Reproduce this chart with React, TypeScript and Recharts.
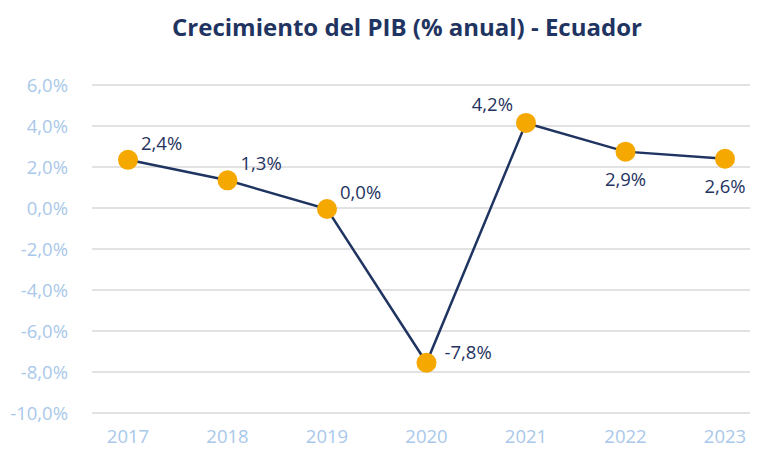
import React from 'react';
import { LineChart, Line, CartesianGrid, XAxis, YAxis, LabelList } from 'recharts';

const years = ['2017', '2018', '2019', '2020', '2021', '2022', '2023'];
const growth = [2.35, 1.35, -0.05, -7.55, 4.15, 2.75, 2.4];
const growthLabels = ['2,4%', '1,3%', '0,0%', '-7,8%', '4,2%', '2,9%', '2,6%'];
const yTicks = [-10, -8, -6, -4, -2, 0, 2, 4, 6];

const data = years.map((year, i) => ({ year, value: growth[i], label: growthLabels[i] }));

const NAVY = '#1f3461';
const ORANGE = '#f5a800';
const TICK = '#a9c8ea';
const FONT = '"Open Sans", "Noto Sans", sans-serif';
const FS = 18.5;

// where each value label sits relative to its dot
const placement = ['right', 'right', 'right', 'right', 'left', 'below', 'below'];

const fmt = (v: number) => v.toFixed(1).replace('.', ',') + '%';

const ValueLabel = (props: any) => {
  const { x, y, index, value } = props;
  const p = placement[index];
  let tx = x + 13;
  let ty = y - 15;
  let anchor: 'start' | 'end' | 'middle' = 'start';
  if (p === 'left') {
    tx = x - 13;
    ty = y - 17;
    anchor = 'end';
  } else if (p === 'below') {
    tx = x;
    ty = y + 29;
    anchor = 'middle';
  }
  if (index === 3) {
    tx = x + 18;
    ty = y - 9;
  }
  return (
    <text x={tx} y={ty} textAnchor={anchor} fill={NAVY} fontSize={FS} fontFamily={FONT} dominantBaseline="middle">
      {value}
    </text>
  );
};

const App = () => {
  return (
    <div style={{ position: 'absolute', left: 0, top: 0, width: 764, height: 453, background: '#fff' }}>
      <div
        style={{
          position: 'absolute',
          top: 10,
          left: 50,
          width: 714,
          textAlign: 'center',
          fontFamily: FONT,
          fontWeight: 700,
          fontSize: 24,
          color: NAVY,
        }}
      >
        Crecimiento del PIB (% anual) - Ecuador
      </div>
      <LineChart width={764} height={453} data={data} margin={{ top: 85, right: 14, bottom: 10, left: 0 }}>
        <CartesianGrid vertical={false} stroke="#d9d9d9" strokeWidth={1.5} />
        <XAxis
          dataKey="year"
          height={30}
          axisLine={false}
          tickLine={false}
          tickSize={0}
          tickMargin={17}
          padding={{ left: 36, right: 25 }}
          tick={{ fill: TICK, fontSize: FS, fontFamily: FONT }}
        />
        <YAxis
          domain={[-10, 6]}
          ticks={yTicks}
          width={92}
          axisLine={false}
          tickLine={false}
          tickSize={0}
          tickMargin={24}
          tickFormatter={fmt}
          tick={{ fill: TICK, fontSize: FS, fontFamily: FONT }}
        />
        <Line
          type="linear"
          dataKey="value"
          stroke={NAVY}
          strokeWidth={2.5}
          dot={{ r: 10, fill: ORANGE, stroke: ORANGE, strokeWidth: 0 }}
          isAnimationActive={false}
        >
          <LabelList dataKey="label" content={ValueLabel} />
        </Line>
      </LineChart>
    </div>
  );
};

export default App;
